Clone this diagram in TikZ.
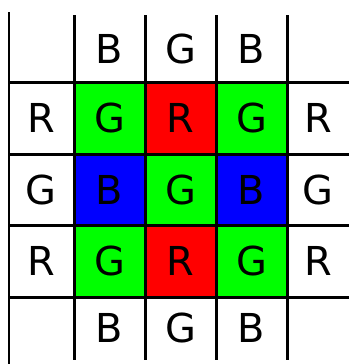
\documentclass[tikz,border=0pt]{standalone}
\usepackage{fontspec}
\setmainfont{DejaVu Sans}
\usetikzlibrary{positioning}
\definecolor{pixR}{RGB}{255,0,0}
\definecolor{pixG}{RGB}{0,255,0}
\definecolor{pixB}{RGB}{0,0,255}

\begin{document}
\begin{tikzpicture}[x=1bp,y=-1bp,
  cell/.style={minimum width=71bp,minimum height=71.5bp,inner sep=0pt,
    font=\fontsize{40}{40}\selectfont},
  grid/.style={line width=3bp}]
  \useasboundingbox (0,0) rectangle (349,364);
  % coloured pixels
  \node[cell,fill=pixG] (g11) at (109.5,118) {G};
  \node[cell,fill=pixR] (r12) at (180.5,118) {R};
  \node[cell,fill=pixG] (g13) at (251.5,118) {G};
  \node[cell,fill=pixB] (b21) at (109.5,189.5) {B};
  \node[cell,fill=pixG] (g22) at (180.5,189.5) {G};
  \node[cell,fill=pixB] (b23) at (251.5,189.5) {B};
  \node[cell,fill=pixG] (g31) at (109.5,261) {G};
  \node[cell,fill=pixR] (r32) at (180.5,261) {R};
  \node[cell,fill=pixG] (g33) at (251.5,261) {G};
  % neighbours
  \node[cell] (b01) at (109.5,48.5) {B};
  \node[cell] (g02) at (180.5,48.5) {G};
  \node[cell] (b03) at (251.5,48.5) {B};
  \node[cell] (r10) at (41,118) {R};
  \node[cell] (r14) at (318,118) {R};
  \node[cell] (g20) at (41,189.5) {G};
  \node[cell] (g24) at (318,189.5) {G};
  \node[cell] (r30) at (41,261) {R};
  \node[cell] (r34) at (318,261) {R};
  \node[cell] (b41) at (109.5,328) {B};
  \node[cell] (g42) at (180.5,328) {G};
  \node[cell] (b43) at (251.5,328) {B};
  % grid lines
  \draw[line width=1.5bp] (9,12)--(9,364);
  \foreach \y in {82,154,225,297}
    \draw[grid] (10,\y)--(349,\y);
  \foreach \x in {74,145,216,287}
    \draw[grid] (\x,15)--(\x,360);
\end{tikzpicture}
\end{document}
